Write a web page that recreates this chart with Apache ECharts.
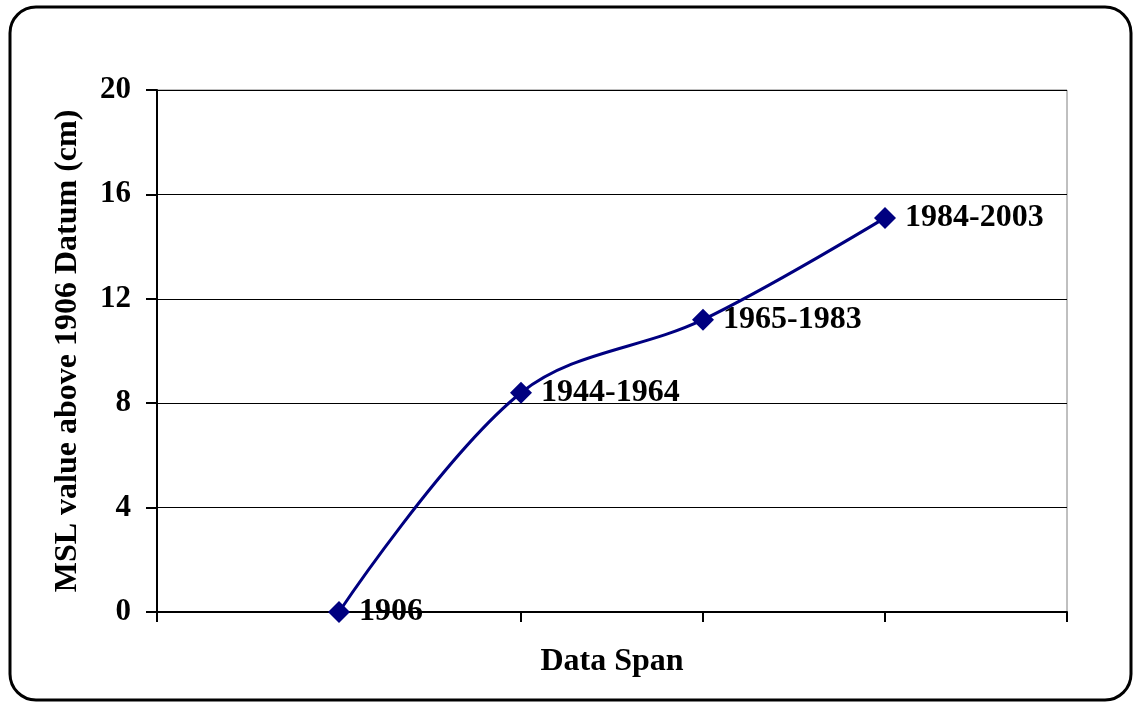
<!DOCTYPE html>
<html>
<head>
<meta charset="utf-8">
<script src="https://cdn.jsdelivr.net/npm/echarts@6/dist/echarts.min.js"></script>
<style>
  html, body { margin: 0; padding: 0; background: #fff; }
  #main { width: 1135px; height: 702px; }
</style>
</head>
<body>
<div id="main"></div>
<script>
// data spans (empty slots pad the axis at both ends)
var spans = ['', '1906', '1944-1964', '1965-1983', '1984-2003', ''];
// MSL above 1906 datum, cm
var mslValues = ['-', 0, 8.4, 11.2, 15.1, '-'];
var yTicks = [0, 4, 8, 12, 16, 20];

var chart = echarts.init(document.getElementById('main'));
var font = 'Liberation Serif, Times New Roman, serif';

var option = {
  backgroundColor: '#fff',
  animation: false,
  graphic: [{
    type: 'rect',
    shape: { x: 10, y: 7, width: 1121, height: 693, r: 26 },
    style: { fill: 'none', stroke: '#000', lineWidth: 3 },
    z: 100
  }],
  grid: {
    left: 157,
    right: 68,
    top: 90,
    bottom: 90,
    show: true,
    borderColor: '#808080',
    borderWidth: 1
  },
  xAxis: {
    type: 'category',
    data: spans,
    boundaryGap: false,
    name: 'Data Span',
    nameLocation: 'middle',
    nameGap: 34,
    nameTextStyle: { fontFamily: font, fontWeight: 'bold', fontSize: 32, color: '#000' },
    axisLine: { lineStyle: { color: '#000', width: 2 } },
    axisTick: { show: true, length: 10, lineStyle: { color: '#000', width: 2 } },
    axisLabel: { show: false },
    splitLine: { show: false }
  },
  yAxis: {
    type: 'value',
    min: yTicks[0],
    max: yTicks[yTicks.length - 1],
    interval: 4,
    name: 'MSL value above 1906 Datum (cm)',
    nameLocation: 'middle',
    nameGap: 73,
    nameRotate: 90,
    nameTextStyle: { fontFamily: font, fontWeight: 'bold', fontSize: 32, color: '#000' },
    axisLine: { show: true, lineStyle: { color: '#000', width: 2 } },
    axisTick: { show: true, length: 11, lineStyle: { color: '#000', width: 2 } },
    axisLabel: {
      margin: 26,
      fontFamily: font, fontWeight: 'bold', fontSize: 31, color: '#000'
    },
    splitLine: { show: true, lineStyle: { color: '#000', width: 1 } }
  },
  series: [{
    type: 'line',
    data: mslValues,
    smooth: 0.35,
    symbol: 'diamond',
    symbolSize: 22,
    lineStyle: { color: '#000080', width: 3 },
    itemStyle: { color: '#000080' },
    label: {
      show: true,
      position: 'right',
      distance: 9,
      formatter: '{b}',
      fontFamily: font, fontWeight: 'bold', fontSize: 32, color: '#000'
    },
    z: 5
  }]
};
chart.setOption(option);
</script>
</body>
</html>
